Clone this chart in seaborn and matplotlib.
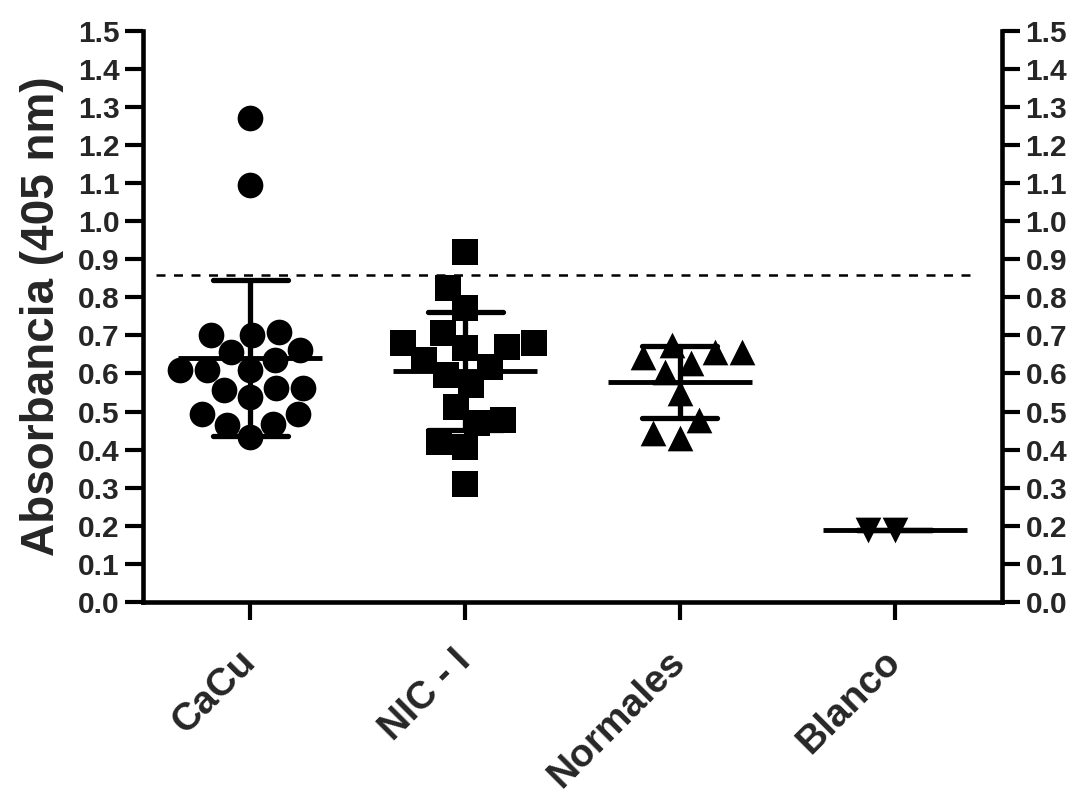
import numpy as np
import pandas as pd
import matplotlib
matplotlib.use("Agg")
import matplotlib.pyplot as plt
import seaborn as sns

# ---- data ----
categories = ["CaCu", "NIC - I", "Normales", "Blanco"]
cacu = [1.270, 1.095, 0.710, 0.701, 0.701, 0.662, 0.657, 0.635, 0.609, 0.609,
        0.609, 0.561, 0.561, 0.557, 0.539, 0.493, 0.493, 0.467, 0.465, 0.432]
nic = [0.920, 0.824, 0.771, 0.705, 0.679, 0.679, 0.666, 0.670, 0.635, 0.618,
       0.596, 0.570, 0.513, 0.478, 0.469, 0.421, 0.408, 0.310]
normales = [0.675, 0.657, 0.657, 0.644, 0.627, 0.605, 0.548, 0.478, 0.443, 0.430]
blanco = [0.190, 0.190]
cutoff = 0.858
y_ticks = [round(0.1 * i, 1) for i in range(16)]
markers = ["o", "s", "^", "v"]

sns.set_theme(style="ticks")
plt.rcParams["font.family"] = ["Liberation Sans", "DejaVu Sans"]
plt.rcParams["font.weight"] = "bold"

groups = [cacu, nic, normales, blanco]
df = pd.DataFrame({
    "group": np.concatenate([[c] * len(v) for c, v in zip(categories, groups)]),
    "value": np.concatenate(groups),
})

fig = plt.figure(figsize=(10.78, 7.97), dpi=100)
ax = fig.add_axes([143 / 1078, 1 - 602 / 797, (1002 - 143) / 1078, (602 - 30.7) / 797])

for cat, m in zip(categories, markers):
    sns.swarmplot(data=df[df["group"] == cat], x="group", y="value", order=categories,
                  marker=m, color="black", size=18.5, linewidth=0, ax=ax, warn_thresh=1)

sns.pointplot(data=df, x="group", y="value", order=categories, errorbar="sd",
              capsize=0.35, linestyle="none", marker="_", markersize=104,
              markeredgewidth=3.5, color="black", err_kws={"linewidth": 3.8}, ax=ax)

ax.hlines(cutoff, -0.44, 3.37, colors="black", linewidth=1.8, linestyles=(0, (3.6, 3.4)))

ax.set_xlim(-0.5, 3.5)
ax.set_ylim(0, 1.5)
ax.set_yticks(y_ticks)
ax.set_yticklabels([f"{t:.1f}" for t in y_ticks])
ax.set_xlabel("")
ax.set_ylabel("Absorbancia (405 nm)", fontsize=33, fontweight="bold", labelpad=10)

for side in ["left", "right", "bottom"]:
    ax.spines[side].set_visible(True)
    ax.spines[side].set_linewidth(3.3)
    ax.spines[side].set_color("black")
ax.spines["top"].set_visible(False)

ax.tick_params(axis="y", which="major", left=True, right=True, labelleft=True,
               labelright=True, length=13, width=3, color="black",
               labelsize=21.5, pad=4, direction="out")
ax.tick_params(axis="x", which="major", length=13, width=3, color="black",
               labelsize=28, pad=26, direction="out")
for lab in ax.get_xticklabels():
    lab.set_rotation(45)
    lab.set_ha("right")
    lab.set_va("center")
    lab.set_rotation_mode("anchor")
    lab.set_fontweight("bold")
for lab in ax.get_yticklabels():
    lab.set_fontweight("bold")
for t in ax.yaxis.get_major_ticks():
    t.label2.set_fontweight("bold")
    t.label2.set_fontsize(21.5)

ax.grid(False)
fig.savefig("out.png", dpi=100, facecolor="white")
